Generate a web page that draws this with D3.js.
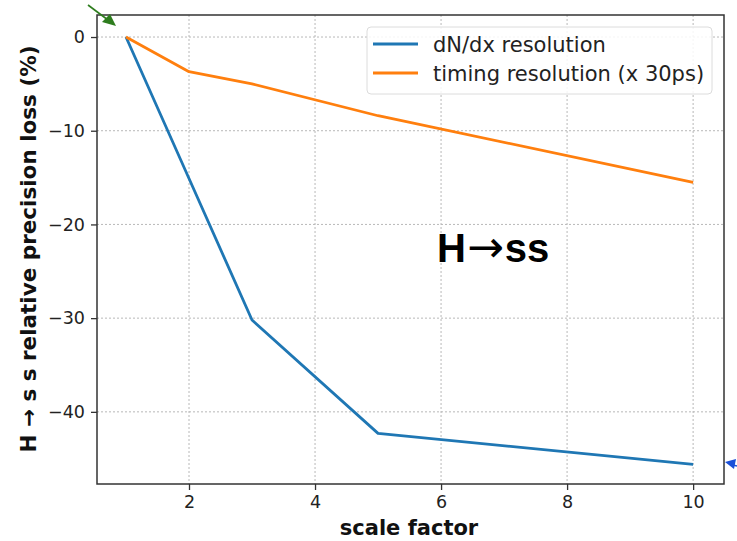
<!DOCTYPE html>
<html><head><meta charset="utf-8">
<script src="https://cdn.jsdelivr.net/npm/d3@7"></script>
<style>body{margin:0;background:#fff}svg{display:block}</style>
</head><body>
<script>
const scaleFactors = [1, 2, 3, 5, 10];
const dndxLoss = [0, -15.1, -30.2, -42.3, -45.6];
const timingLoss = [0, -3.7, -5.0, -8.4, -15.5];
const xTicks = [2, 4, 6, 8, 10];
const yTicks = [0, -10, -20, -30, -40];
const seriesNames = ["dN/dx resolution", "timing resolution (x 30ps)"];

const W = 737, H = 541;
const m = {l: 97, r: 13, t: 15, b: 57};
const svg = d3.select("body").append("svg").attr("width", W).attr("height", H);
const x = d3.scaleLinear().domain([0.54, 10.49]).range([m.l, W - m.r]);
const y = d3.scaleLinear().domain([-47.7, 2.35]).range([H - m.b, m.t]);
const font = "DejaVu Sans, sans-serif";

// grid
const g = svg.append("g");
g.selectAll(".gx").data(xTicks).join("line")
  .attr("x1", d => x(d)).attr("x2", d => x(d)).attr("y1", m.t).attr("y2", H - m.b)
  .attr("stroke", "#b8b8b8").attr("stroke-width", 1).attr("stroke-dasharray", "2,2");
g.selectAll(".gy").data(yTicks).join("line")
  .attr("y1", d => y(d)).attr("y2", d => y(d)).attr("x1", m.l).attr("x2", W - m.r)
  .attr("stroke", "#b8b8b8").attr("stroke-width", 1).attr("stroke-dasharray", "2,2");

// lines
const line = d3.line().x(d => x(d[0])).y(d => y(d[1]));
const colors = ["#1f77b4", "#ff7f0e"];
[dndxLoss, timingLoss].forEach((vals, i) => {
  svg.append("path").datum(scaleFactors.map((s, j) => [s, vals[j]]))
    .attr("d", line).attr("fill", "none").attr("stroke", colors[i])
    .attr("stroke-width", 2.8).attr("stroke-linejoin", "round");
});

// axes
const xAxis = svg.append("g").attr("transform", `translate(0,${H - m.b})`)
  .call(d3.axisBottom(x).tickValues(xTicks).tickSize(6).tickPadding(6).tickFormat(d3.format("d")));
const yAxis = svg.append("g").attr("transform", `translate(${m.l},0)`)
  .call(d3.axisLeft(y).tickValues(yTicks).tickSize(6).tickPadding(6).tickFormat(d => d < 0 ? "\u2212" + Math.abs(d) : d));
[xAxis, yAxis].forEach(a => {
  a.select(".domain").remove();
  a.selectAll("text").attr("font-family", font).attr("font-size", 17.5).attr("fill", "#222");
  a.selectAll("line").attr("stroke", "#333").attr("stroke-width", 1.3);
});

// frame
svg.append("rect").attr("x", m.l).attr("y", m.t).attr("width", W - m.l - m.r).attr("height", H - m.t - m.b)
  .attr("fill", "none").attr("stroke", "#333").attr("stroke-width", 1.5);

// labels
svg.append("text").attr("x", 409).attr("y", 535).attr("text-anchor", "middle")
  .attr("font-family", font).attr("font-weight", "bold").attr("font-size", 21).attr("fill", "#111")
  .text("scale factor");
svg.append("text").attr("transform", `translate(36,249) rotate(-90)`)
  .attr("text-anchor", "middle")
  .attr("font-family", font).attr("font-weight", "bold").attr("font-size", 21.5).attr("fill", "#111")
  .text("H \u2192 s s relative precision loss (%)");

// legend
const lg = svg.append("g");
lg.append("rect").attr("x", 367).attr("y", 27).attr("width", 345).attr("height", 67)
  .attr("rx", 4).attr("fill", "#fff").attr("fill-opacity", 0.85).attr("stroke", "#dcdcdc");
seriesNames.forEach((n, i) => {
  const yy = 44 + i * 29;
  lg.append("line").attr("x1", 373).attr("x2", 418).attr("y1", yy).attr("y2", yy)
    .attr("stroke", colors[i]).attr("stroke-width", 2.8);
  lg.append("text").attr("x", 433).attr("y", yy + 7.5).attr("font-family", font)
    .attr("font-size", 21).attr("fill", "#222").text(n);
});

// annotation
const ann = svg.append("text").attr("x", 437).attr("y", 262)
  .attr("font-family", "Liberation Sans, Arial, sans-serif").attr("font-weight", "bold")
  .attr("font-size", 40).attr("fill", "#000");
ann.append("tspan").text("H");
ann.append("tspan").attr("dx", 1).attr("font-family", "DejaVu Sans, sans-serif").attr("font-weight", "normal")
  .attr("font-size", 44).text("\u2192");
ann.append("tspan").attr("dx", 1).text("ss");

// arrow marks at edges
svg.append("line").attr("x1", 88).attr("y1", 5).attr("x2", 108).attr("y2", 20)
  .attr("stroke", "#2e7d1e").attr("stroke-width", 1.6);
svg.append("path").attr("d", "M116,26 L102,22 L110,14 Z").attr("fill", "#2e7d1e");
svg.append("line").attr("x1", 733).attr("y1", 465).attr("x2", 737).attr("y2", 466)
  .attr("stroke", "#1a4fd8").attr("stroke-width", 1.6);
svg.append("path").attr("d", "M725,462 L736,459 L734,469 Z").attr("fill", "#1a4fd8");
</script>
</body></html>
